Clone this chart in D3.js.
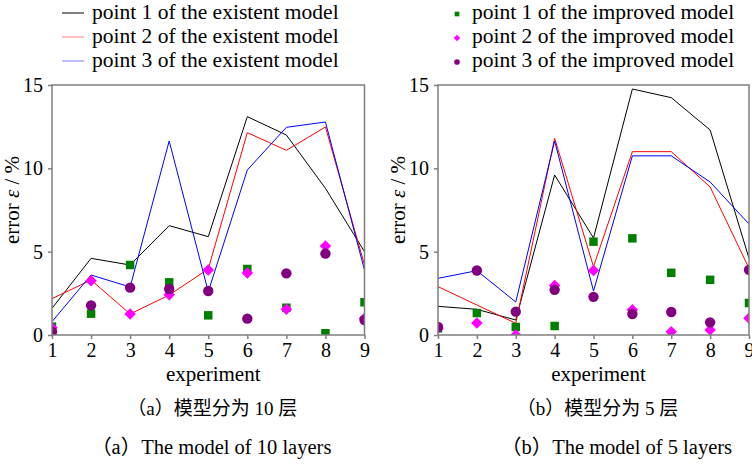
<!DOCTYPE html>
<html>
<head>
<meta charset="utf-8">
<script src="https://cdn.jsdelivr.net/npm/d3@7/dist/d3.min.js"></script>
<style>
html,body{margin:0;padding:0;background:#fff;}
svg{display:block;}
text{font-family:"Liberation Serif","Times New Roman",serif;fill:#000;}
.cjk{font-family:"Liberation Serif","Noto Sans CJK SC",serif;}
</style>
</head>
<body>
<svg id="chart" width="752" height="468"></svg>
<script>
const experiments = [1,2,3,4,5,6,7,8,9];
const yTicks = [0,5,10,15];

// Panel (a): model of 10 layers
const a_exist1 = [1.6,4.6,4.2,6.56,5.9,13.1,12.0,8.8,5.0];
const a_exist2 = [2.18,3.3,1.26,2.4,3.96,12.14,11.08,12.48,4.2];
const a_exist3 = [0.8,3.6,2.88,11.64,2.6,9.9,12.46,12.78,3.9];
const a_impr1 = [0.5,1.28,4.2,3.16,1.18,3.96,1.64,0.1,1.96];
const a_impr2 = [0.44,3.26,1.26,2.42,3.9,3.72,1.54,5.34,1.0];
const a_impr3 = [0.2,1.78,2.84,2.76,2.64,0.98,3.7,4.88,0.9];

// Panel (b): model of 5 layers
const b_exist1 = [1.72,1.54,0.9,9.6,5.82,14.76,14.24,12.3,4.6];
const b_exist2 = [2.9,1.8,0.7,11.8,4.1,11.0,11.0,8.88,4.0];
const b_exist3 = [3.4,3.86,1.98,11.64,2.64,10.75,10.75,9.18,6.66];
const b_impr1 = [0.4,1.32,0.48,0.54,5.6,5.8,3.73,3.31,1.92];
const b_impr2 = [0.4,0.72,0.0,2.97,3.87,1.52,0.2,0.3,1.0];
const b_impr3 = [0.48,3.87,1.4,2.71,2.29,1.26,1.38,0.76,3.91];

const lineLabels = ["point 1 of the existent model","point 2 of the existent model","point 3 of the existent model"];
const markLabels = ["point 1 of the improved model","point 2 of the improved model","point 3 of the improved model"];
const captionsCN = ["（a）模型分为 10 层","（b）模型分为 5 层"];
const captionsEN = ["（a）The model of 10 layers","（b）The model of 5 layers"];

const lineColors = ["#000000","#ff0000","#0000ff"];
const markColors = ["#008000","#ff00ff","#800080"];

const svg = d3.select("#chart");

const panels = [
  {x0:52, x1:364.5, lines:[a_exist1,a_exist2,a_exist3], marks:[a_impr1,a_impr2,a_impr3], cn:captionsCN[0], en:captionsEN[0], id:"a"},
  {x0:438, x1:749, lines:[b_exist1,b_exist2,b_exist3], marks:[b_impr1,b_impr2,b_impr3], cn:captionsCN[1], en:captionsEN[1], id:"b"}
];
const yTop = 85, yBot = 335;

const sym = [d3.symbolSquare, d3.symbolSquare, d3.symbolCircle];
const symSize = [72, 66, 85];
const symRot = [0, 45, 0];

panels.forEach((p, pi) => {
  const x = d3.scaleLinear().domain([1,9]).range([p.x0, p.x1]);
  const y = d3.scaleLinear().domain([0,15]).range([yBot, yTop]);
  const g = svg.append("g");

  g.append("clipPath").attr("id","clip"+p.id)
    .append("rect").attr("x",p.x0).attr("y",yTop).attr("width",p.x1-p.x0).attr("height",yBot-yTop);

  const data = g.append("g").attr("clip-path","url(#clip"+p.id+")");
  const line = d3.line().x((d,i)=>x(experiments[i])).y(d=>y(d));
  p.lines.forEach((s, si) => {
    data.append("path").attr("d", line(s)).attr("fill","none")
      .attr("stroke", lineColors[si]).attr("stroke-width",1);
  });
  p.marks.forEach((s, si) => {
    data.selectAll(null).data(s).enter().append("path")
      .attr("d", d3.symbol().type(sym[si]).size(symSize[si]))
      .attr("transform",(d,i)=>`translate(${x(experiments[i])},${y(d)}) rotate(${symRot[si]})`)
      .attr("fill", markColors[si]);
  });

  // frame
  g.append("rect").attr("x",p.x0).attr("y",yTop).attr("width",p.x1-p.x0).attr("height",yBot-yTop)
    .attr("fill","none").attr("stroke","#7f7f7f").attr("stroke-width",1.5);

  const yAxis = d3.axisLeft(y).tickValues(yTicks).tickSize(4).tickPadding(5).tickFormat(d3.format("d"));
  const ya = g.append("g").attr("transform",`translate(${p.x0},0)`).call(yAxis);
  ya.select(".domain").remove();
  ya.selectAll("line").attr("stroke","#7f7f7f").attr("stroke-width",1.5);
  ya.selectAll("text").style("font-family","'Liberation Serif',serif").style("font-size","20px").attr("fill","#000");

  const xAxis = d3.axisBottom(x).tickValues(experiments).tickSize(4).tickPadding(4).tickFormat(d3.format("d"));
  const xa = g.append("g").attr("transform",`translate(0,${yBot})`).call(xAxis);
  xa.select(".domain").remove();
  xa.selectAll("line").attr("stroke","#7f7f7f").attr("stroke-width",1.5);
  xa.selectAll("text").style("font-family","'Liberation Serif',serif").style("font-size","20px").attr("fill","#000");

  const cx = (p.x0+p.x1)/2;
  g.append("text").attr("x",cx+5).attr("y",381).attr("text-anchor","middle")
    .style("font-size","21px").text("experiment");

  const yl = g.append("text").attr("transform",`translate(${p.x0-33},200) rotate(-90)`)
    .attr("text-anchor","middle").style("font-size","21px");
  yl.append("tspan").text("error ");
  yl.append("tspan").style("font-style","italic").text("ε");
  yl.append("tspan").text(" / %");

  g.append("text").attr("class","cjk").attr("x",cx+4).attr("y",415).attr("text-anchor","middle")
    .style("font-size","19px").text(p.cn);
  g.append("text").attr("class","cjk").attr("x",cx+3+pi*20).attr("y",454).attr("text-anchor","middle")
    .style("font-size","20.5px").text(p.en);
});

// legends
const legY = [19, 43, 67];
const lg = svg.append("g");
lineLabels.forEach((t,i)=>{
  lg.append("line").attr("x1",62).attr("x2",84).attr("y1",legY[i]-6).attr("y2",legY[i]-6)
    .attr("stroke",lineColors[i]).attr("stroke-width",1).attr("stroke-opacity", i===0?1:0.5);
  lg.append("text").attr("x",92).attr("y",legY[i]).style("font-size","21.5px").text(t);
});
markLabels.forEach((t,i)=>{
  lg.append("path").attr("d", d3.symbol().type(sym[i]).size([22,22,25][i]))
    .attr("transform",`translate(457,${legY[i]-5}) rotate(${symRot[i]})`).attr("fill",markColors[i]);
  lg.append("text").attr("x",472).attr("y",legY[i]).style("font-size","21.5px").text(t);
});
</script>
</body>
</html>
